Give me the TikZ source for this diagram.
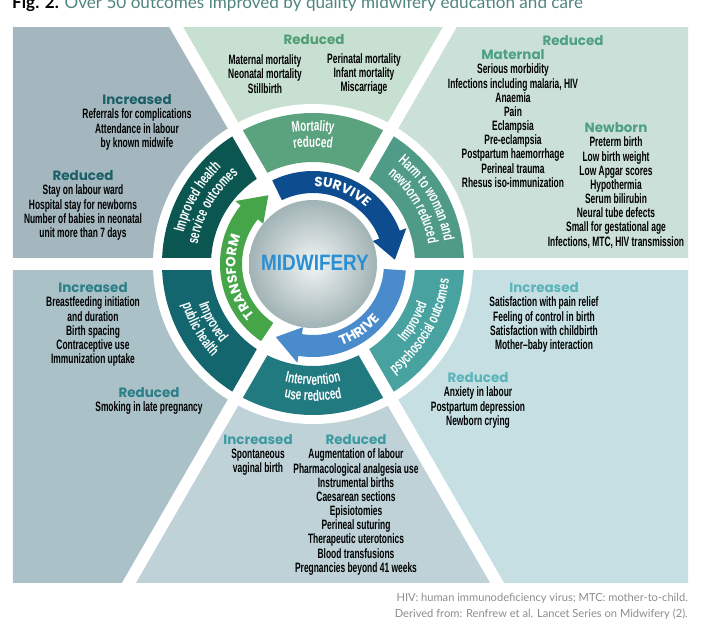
\documentclass[tikz,border=0pt]{standalone}
\usepackage{fontspec}
\setmainfont{Liberation Sans}
\newfontfamily\itemfont[FakeStretch=0.62]{Liberation Sans}
\newfontfamily\segfont[FakeStretch=0.65]{Liberation Sans}
\newfontfamily\headfont{Poppins}
\newfontfamily\midfont[FakeStretch=0.85]{Liberation Sans}
\newfontfamily\notefont{Lato}
\usetikzlibrary{decorations.text,positioning}

\definecolor{pnlTL}{HTML}{A4B7BE}
\definecolor{pnlT}{HTML}{C7E0D1}
\definecolor{pnlTR}{HTML}{CBE0D9}
\definecolor{pnlBR}{HTML}{C5DFE3}
\definecolor{pnlB}{HTML}{BED2D8}
\definecolor{pnlBL}{HTML}{ABC1C8}
\definecolor{hdTL}{HTML}{1B5F68}
\definecolor{hdT}{HTML}{4F9E75}
\definecolor{hdTR}{HTML}{4D9F86}
\definecolor{hdBR}{HTML}{5AB4B8}
\definecolor{hdB}{HTML}{3D9AA0}
\definecolor{hdBL}{HTML}{2B7F88}
\definecolor{segMort}{HTML}{5BA27E}
\definecolor{segHarm}{HTML}{4F9B88}
\definecolor{segPsy}{HTML}{47A2A0}
\definecolor{segInt}{HTML}{217A80}
\definecolor{segPub}{HTML}{13666E}
\definecolor{segServ}{HTML}{0B5651}
\definecolor{arrSurvive}{HTML}{0D4C8E}
\definecolor{arrThrive}{HTML}{4A8BCC}
\definecolor{arrTransform}{HTML}{45A548}
\definecolor{midBlue}{HTML}{2A8FD3}
\definecolor{sphIn}{HTML}{F2F5F5}
\definecolor{sphOut}{HTML}{A1B3B5}
\definecolor{titleTeal}{HTML}{4F847D}
\definecolor{noteGray}{HTML}{8C8C8C}

\newcommand\seglbl{\segfont\bfseries\fontsize{13}{13}\selectfont}
\newcommand\arrlbl{\headfont\bfseries\fontsize{11.5}{11.5}\selectfont}

\begin{document}
\begin{tikzpicture}[x=0.03cm, y=0.03cm,
  gap/.style={white, line width=10.2pt},
  item/.style={font=\itemfont\bfseries\fontsize{11.6}{12.1}\selectfont, align=center, inner sep=0pt},
  head/.style={font=\headfont\bfseries\fontsize{11.5}{12}\selectfont, inner sep=0pt},
  ringlabel/.style={decorate, decoration={text along path, text align=center, text color=white}}
]
  \useasboundingbox (-313,-366) rectangle (397,264);

  % panels, ring and white gaps
  \begin{scope}
    \clip (-300,-318) rectangle (375,237);
    \foreach \a/\col in {0/pnlTR, 60/pnlT, 120/pnlTL, 180/pnlBL, 240/pnlB, 300/pnlBR}
      \fill[\col] (0,0) -- (\a:600) arc[start angle=\a, end angle=\a+60, radius=600] -- cycle;
    \fill[white] (0,0) circle[radius=160];
    \foreach \a/\col in {0/segHarm, 60/segMort, 120/segServ, 180/segPub, 240/segInt, 300/segPsy}
      \fill[\col] (\a:102) -- (\a:151) arc[start angle=\a, end angle=\a+60, radius=151]
        -- ({\a+60}:102) arc[start angle=\a+60, end angle=\a, radius=102] -- cycle;
    \foreach \a in {0,60,...,300}
      \draw[gap] (\a:98) -- (\a:600);
  \end{scope}

  % arrows
  \foreach \s/\col in {116/arrSurvive, -4/arrThrive, 236/arrTransform}
    \fill[\col] (\s:71) -- (\s:93) arc[start angle=\s, end angle=\s-95, radius=93]
      -- ({\s-95}:100) -- ({\s-113}:82) -- ({\s-95}:64) -- ({\s-95}:71)
      arc[start angle=\s-95, end angle=\s, radius=71] -- cycle;

  \shade[inner color=sphIn, outer color=sphOut] (0,0) circle[radius=64];
  \node[font=\midfont\bfseries\fontsize{19}{19}\selectfont, text=midBlue, inner sep=0pt] (mid) at (2,1) {MIDWIFERY};

  % arrow labels
  \path[ringlabel, decoration={text={|\arrlbl|SURVIVE}}] (108:77.5) arc[start angle=108, end angle=28, radius=77.5];
  \path[ringlabel, decoration={text={|\arrlbl|TRANSFORM}}] (230:77.5) arc[start angle=230, end angle=150, radius=77.5];
  \path[ringlabel, decoration={text={|\arrlbl|THRIVE}}] (-95:86.5) arc[start angle=-95, end angle=-15, radius=86.5];

  % segment labels
  \path[ringlabel, decoration={text={|\seglbl|Mortality}}] (130:133) arc[start angle=130, end angle=50, radius=133];
  \path[ringlabel, decoration={text={|\seglbl|reduced}}] (130:117) arc[start angle=130, end angle=50, radius=117];
  \path[ringlabel, decoration={text={|\seglbl|Harm to woman and}}] (70:133) arc[start angle=70, end angle=-10, radius=133];
  \path[ringlabel, decoration={text={|\seglbl|newborn reduced}}] (70:117) arc[start angle=70, end angle=-10, radius=117];
  \path[ringlabel, decoration={text={|\seglbl|Improved health}}] (190:133) arc[start angle=190, end angle=110, radius=133];
  \path[ringlabel, decoration={text={|\seglbl|service outcomes}}] (190:117) arc[start angle=190, end angle=110, radius=117];
  \path[ringlabel, decoration={text={|\seglbl|Improved}}] (-70:121) arc[start angle=-70, end angle=10, radius=121];
  \path[ringlabel, decoration={text={|\seglbl|psychosocial outcomes}}] (-70:137) arc[start angle=-70, end angle=10, radius=137];
  \path[ringlabel, decoration={text={|\seglbl|Intervention}}] (230:121) arc[start angle=230, end angle=310, radius=121];
  \path[ringlabel, decoration={text={|\seglbl|use reduced}}] (230:137) arc[start angle=230, end angle=310, radius=137];
  \path[ringlabel, decoration={text={|\seglbl|Improved}}] (170:121) arc[start angle=170, end angle=250, radius=121];
  \path[ringlabel, decoration={text={|\seglbl|public health}}] (170:137) arc[start angle=170, end angle=250, radius=137];

  % top left
  \node[head, text=hdTL] (tlInc) at (-176,164) {Increased};
  \node[item, below=3pt of tlInc] (tlIncList) {Referrals for complications\\Attendance in labour\\by known midwife};
  \node[head, text=hdTL] (tlRed) at (-230,88) {Reduced};
  \node[item, below=3pt of tlRed] (tlRedList) {Stay on labour ward\\Hospital stay for newborns\\Number of babies in neonatal\\unit more than 7 days};

  % top
  \node[head, text=hdT] (tRed) at (1,224) {Reduced};
  \node[item] (tRedL) at (-48,190) {Maternal mortality\\Neonatal mortality\\Stillbirth};
  \node[item] (tRedR) at (51,190) {Perinatal mortality\\Infant mortality\\Miscarriage};

  % top right
  \node[head, text=hdTR] (trRed) at (260,223) {Reduced};
  \node[head, text=hdTR] (trMat) at (200,209) {Maternal};
  \node[item, below=3pt of trMat] (trMatList) {Serious morbidity\\Infections including malaria, HIV\\Anaemia\\Pain\\Eclampsia\\Pre-eclampsia\\Postpartum haemorrhage\\Perineal trauma\\Rhesus iso-immunization};
  \node[head, text=hdTR] (trNew) at (303,136) {Newborn};
  \node[item, below=3pt of trNew] (trNewList) {Preterm birth\\Low birth weight\\Low Apgar scores\\Hypothermia\\Serum bilirubin\\Neural tube defects\\Small for gestational age\\Infections, MTC, HIV transmission};

  % bottom left
  \node[head, text=hdBL] (blInc) at (-220,-24) {Increased};
  \node[item, below=3pt of blInc] (blIncList) {Breastfeeding initiation\\and duration\\Birth spacing\\Contraceptive use\\Immunization uptake};
  \node[head, text=hdBL] (blRed) at (-164,-129) {Reduced};
  \node[item, below=3pt of blRed] (blRedList) {Smoking in late pregnancy};

  % bottom
  \node[head, text=hdB] (bInc) at (-55,-176) {Increased};
  \node[item, below=3pt of bInc] (bIncList) {Spontaneous\\vaginal birth};
  \node[head, text=hdB] (bRed) at (43,-176) {Reduced};
  \node[item, below=3pt of bRed] (bRedList) {Augmentation of labour\\Pharmacological analgesia use\\Instrumental births\\Caesarean sections\\Episiotomies\\Perineal suturing\\Therapeutic uterotonics\\Blood transfusions\\Pregnancies beyond 41 weeks};

  % bottom right
  \node[head, text=hdBR] (brInc) at (231,-24) {Increased};
  \node[item, below=3pt of brInc] (brIncList) {Satisfaction with pain relief\\Feeling of control in birth\\Satisfaction with childbirth\\Mother–baby interaction};
  \node[head, text=hdBR] (brRed) at (165,-114) {Reduced};
  \node[item, below=3pt of brRed] (brRedList) {Anxiety in labour\\Postpartum depression\\Newborn crying};

  % title and notes
  \node[anchor=base west, inner sep=0pt, font=\notefont\fontsize{14.6}{15}\selectfont, text=titleTeal] (title) at (-301,256)
    {{\color{black}\bfseries Fig. 2.} Over 50 outcomes improved by quality midwifery education and care};
  \node[anchor=base east, inner sep=0pt, font=\notefont\fontsize{9.5}{9.5}\selectfont, text=noteGray] (note1) at (375,-337)
    {HIV: human immunodeficiency virus; MTC: mother-to-child.};
  \node[anchor=base east, inner sep=0pt, font=\notefont\fontsize{9.5}{9.5}\selectfont, text=noteGray] (note2) at (375,-353)
    {Derived from: Renfrew et al. Lancet Series on Midwifery (2).};
\end{tikzpicture}
\end{document}
